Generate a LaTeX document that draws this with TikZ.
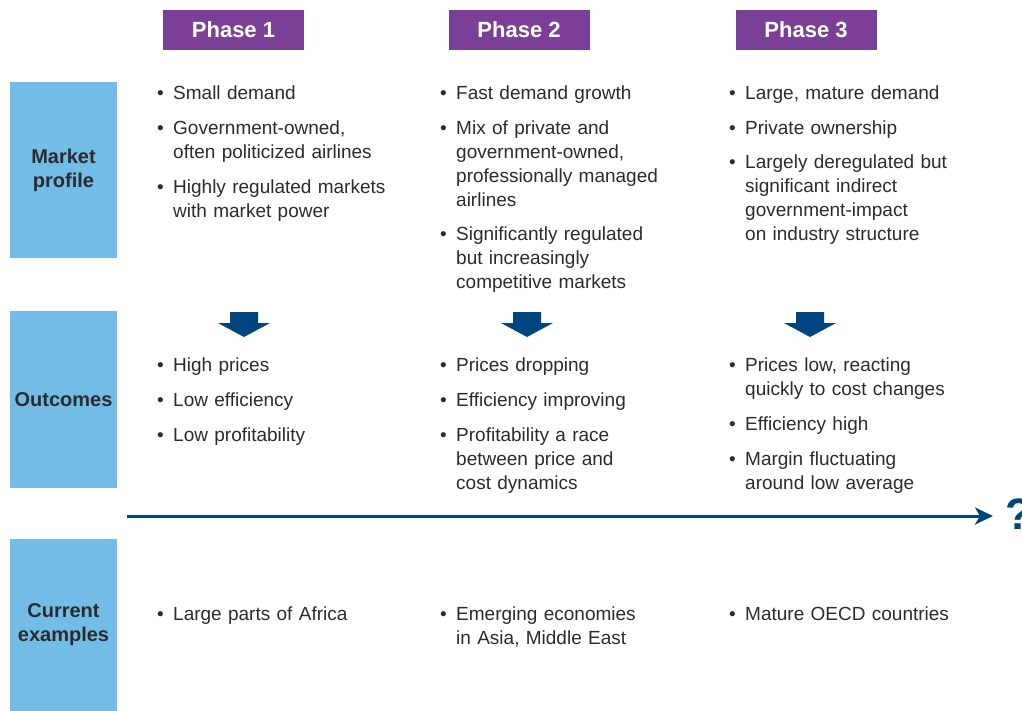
\documentclass[tikz,border=0pt]{standalone}
\usepackage{fontspec}
\setmainfont{Liberation Sans}
\usetikzlibrary{arrows.meta}

\definecolor{phasepurple}{HTML}{7B3F98}
\definecolor{rowblue}{HTML}{74BCE8}
\definecolor{navy}{HTML}{00457F}
\definecolor{txtgray}{HTML}{2B2B2B}

\tikzset{
  phase/.style={fill=phasepurple, text=white, inner sep=0,
    font=\fontsize{22}{26}\selectfont\bfseries,
    minimum width=141pt, minimum height=40pt},
  rowlabel/.style={fill=rowblue, text=txtgray, inner sep=0, align=center,
    font=\fontsize{20}{24}\selectfont\bfseries, minimum width=107pt},
  itemtext/.style={anchor=north west, inner sep=0, text width=260pt,
    align=left, text=txtgray, font=\fontsize{19}{24}\selectfont},
  itemdot/.style={anchor=north west, inner sep=0, text=txtgray,
    font=\fontsize{19}{24}\selectfont}
}

% bullet + text, top of first line at (#2,#3)
\newcommand{\phitem}[4]{%
  \node[itemdot] (#1d) at (#2-16,#3) {\strut\textbullet};
  \node[itemtext] (#1) at (#2,#3) {\strut #4};
}

\begin{document}
\begin{tikzpicture}[x=1pt,y=-1pt]
  \useasboundingbox (0,0) rectangle (1022,710);

  % phase headers
  \node[phase] (ph1) at (233.5,30) {Phase 1};
  \node[phase] (ph2) at (519,30) {Phase 2};
  \node[phase] (ph3) at (806,30) {Phase 3};

  % row labels
  \node[rowlabel, minimum height=176pt] (market) at (63.5,170) {Market\\profile};
  \node[rowlabel, minimum height=177pt] (outcomes) at (63.5,399.5) {Outcomes};
  \node[rowlabel, minimum height=172pt] (examples) at (63.5,625) {Current\\examples};

  % market profile
  \phitem{m1a}{173}{82}{Small demand}
  \phitem{m1b}{173}{117}{Government-owned,\\often politicized airlines}
  \phitem{m1c}{173}{176}{Highly regulated markets\\with market power}

  \phitem{m2a}{456}{82}{Fast demand growth}
  \phitem{m2b}{456}{117}{Mix of private and\\government-owned,\\professionally managed\\airlines}
  \phitem{m2c}{456}{223}{Significantly regulated\\but increasingly\\competitive markets}

  \phitem{m3a}{745}{82}{Large, mature demand}
  \phitem{m3b}{745}{117}{Private ownership}
  \phitem{m3c}{745}{151}{Largely deregulated but\\significant indirect\\government-impact\\on industry structure}

  % down arrows
  \foreach \cx in {244,527,810}{
    \fill[navy] (\cx-14,312) -- (\cx+14,312) -- (\cx+14,323) -- (\cx+26,323)
      -- (\cx,337) -- (\cx-26,323) -- (\cx-14,323) -- cycle;
  }

  % outcomes
  \phitem{o1a}{173}{354}{High prices}
  \phitem{o1b}{173}{389}{Low efficiency}
  \phitem{o1c}{173}{424}{Low profitability}

  \phitem{o2a}{456}{354}{Prices dropping}
  \phitem{o2b}{456}{389}{Efficiency improving}
  \phitem{o2c}{456}{424}{Profitability a race\\between price and\\cost dynamics}

  \phitem{o3a}{745}{354}{Prices low, reacting\\quickly to cost changes}
  \phitem{o3b}{745}{413}{Efficiency high}
  \phitem{o3c}{745}{448}{Margin fluctuating\\around low average}

  % time line
  \coordinate (tstart) at (127,516);
  \node[inner sep=0, anchor=west, text=navy, font=\fontsize{44}{44}\selectfont\bfseries]
    (quest) at (1005,514) {?};
  \draw[navy, line width=3pt, -{Stealth[length=18pt,width=17pt,inset=5pt]}, shorten >=12pt]
    (tstart) -- (tstart -| quest.west);

  % current examples
  \phitem{c1}{173}{603}{Large parts of Africa}
  \phitem{c2}{456}{603}{Emerging economies\\in Asia, Middle East}
  \phitem{c3}{745}{603}{Mature OECD countries}
\end{tikzpicture}
\end{document}
